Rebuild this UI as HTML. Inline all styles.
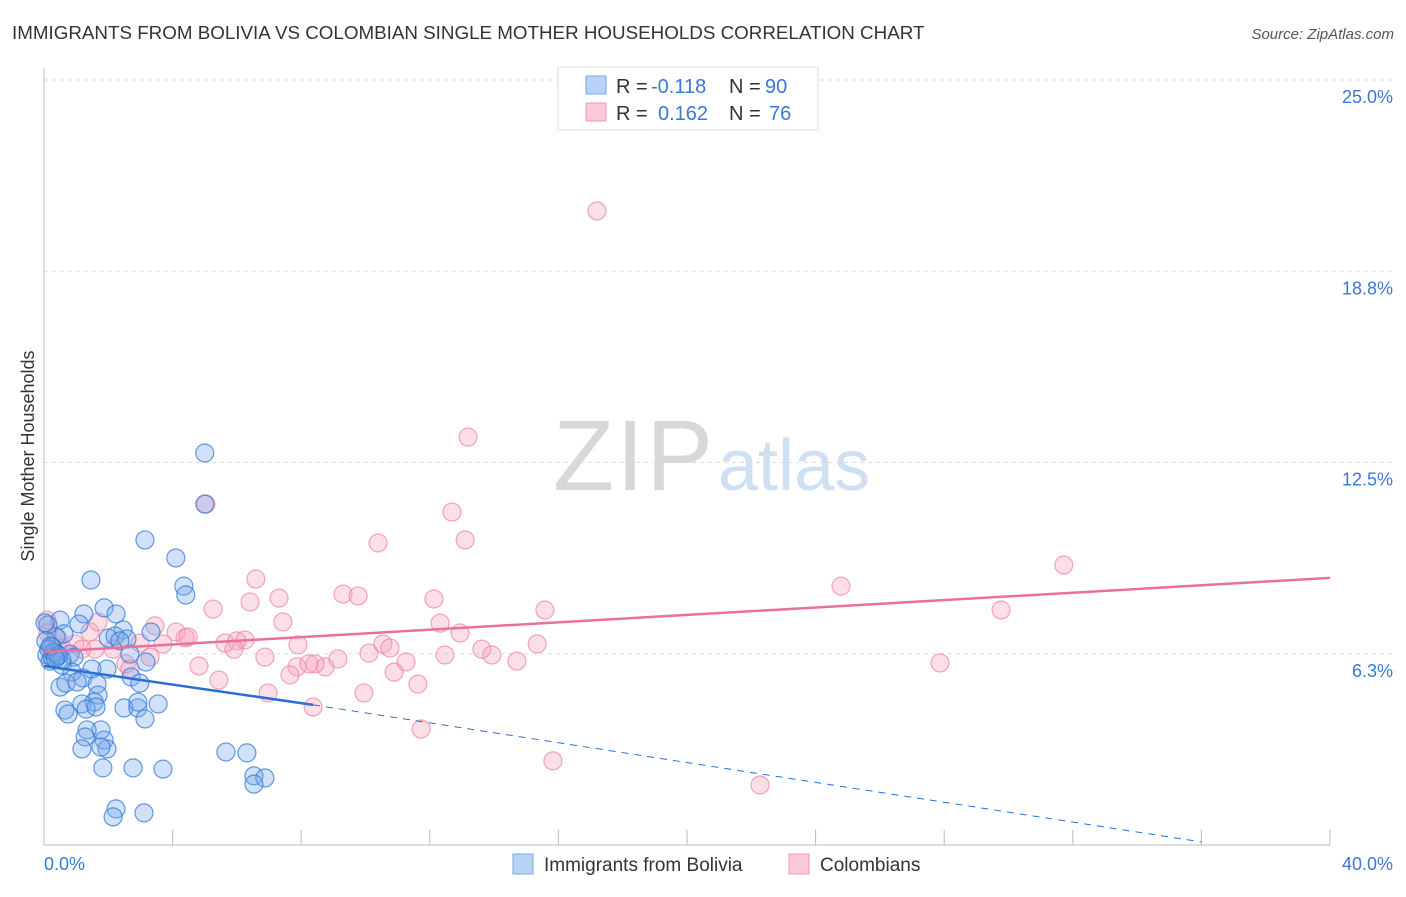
<!DOCTYPE html>
<html><head><meta charset="utf-8"><style>
body{margin:0;background:#fff;font-family:"Liberation Sans",sans-serif}
svg text{font-family:"Liberation Sans",sans-serif}
</style></head><body>
<svg id="chart" width="1406" height="892" viewBox="0 0 1406 892">
<text x="12" y="39" font-size="18.8" fill="#333">IMMIGRANTS FROM BOLIVIA VS COLOMBIAN SINGLE MOTHER HOUSEHOLDS CORRELATION CHART</text>
<text x="1394" y="39" font-size="15" fill="#555" text-anchor="end" font-style="italic">Source: ZipAtlas.com</text>
<g>
<text x="553" y="490" font-size="100" fill="#d8d8d8" font-family="Liberation Serif, serif" textLength="160">ZIP</text>
<text x="718" y="490" font-size="72" fill="#cfe0f3">atlas</text>
</g>
<g id="grid"></g>
<g id="axes"></g>
<g id="pts"></g>
<g id="trend"></g>
<text transform="translate(34,456) rotate(-90)" font-size="18" fill="#333" text-anchor="middle">Single Mother Households</text>
<g>
<rect x="558" y="67" width="260" height="63" fill="#fff" stroke="#ddd"/>
<rect x="586" y="76" width="20" height="18" fill="#b8d3f5" stroke="#7aa9e6"/>
<rect x="586" y="103" width="20" height="18" fill="#fac8d6" stroke="#f09ab2"/>
<text x="616" y="93" font-size="20" fill="#333">R =</text>
<text x="651" y="93" font-size="20" fill="#3a78d4">-0.118</text>
<text x="729" y="93" font-size="20" fill="#333">N =</text>
<text x="765" y="93" font-size="20" fill="#3a78d4">90</text>
<text x="616" y="120" font-size="20" fill="#333">R =</text>
<text x="658" y="120" font-size="20" fill="#3a78d4">0.162</text>
<text x="729" y="120" font-size="20" fill="#333">N =</text>
<text x="769" y="120" font-size="20" fill="#3a78d4">76</text>
</g>
<g>
<rect x="513" y="854" width="20" height="20" fill="#b8d3f5" stroke="#7aa9e6"/>
<text x="544" y="871" font-size="19" fill="#333">Immigrants from Bolivia</text>
<rect x="789" y="854" width="20" height="20" fill="#fac8d6" stroke="#f09ab2"/>
<text x="820" y="871" font-size="19" fill="#333">Colombians</text>
</g>
</svg>
<script>
const yTicks=[6.25,12.5,18.75,25];
const yTickLabels=["6.3%","12.5%","18.8%","25.0%"];
const xTickLabels=["0.0%","40.0%"];
const blueX=[5.0,5.0,3.14,4.1,4.35,4.41,1.46,1.87,2.24,1.24,0.5,1.09,2.0,2.46,3.33,2.21,2.58,2.36,0.62,0.37,0.12,0.25,0.4,0.81,0.93,0.56,0.09,0.19,2.67,3.17,1.96,1.49,0.87,0.5,0.68,1.21,1.65,1.03,2.71,2.98,1.68,1.56,1.18,0.65,0.75,1.31,1.62,2.49,2.92,3.55,2.92,3.14,1.77,1.34,1.28,1.87,1.18,1.96,1.77,1.83,2.77,3.7,5.66,6.31,6.53,6.87,6.53,2.24,2.15,3.11,0.03,0.06,0.25,0.37,0.56,0.15,0.3,0.45,0.2,0.35];
const blueY=[12.81,11.14,9.97,9.38,8.46,8.17,8.66,7.75,7.55,7.55,7.35,7.22,6.76,7.03,6.96,6.83,6.73,6.67,6.9,6.8,7.19,6.47,6.14,6.24,6.14,5.88,6.21,6.01,6.24,5.98,5.75,5.75,5.65,5.16,5.29,5.46,5.26,5.33,5.49,5.29,4.9,4.67,4.61,4.41,4.28,4.44,4.51,4.48,4.48,4.61,4.67,4.12,3.76,3.76,3.53,3.43,3.14,3.14,3.2,2.52,2.52,2.48,3.04,3.01,2.26,2.19,1.99,1.18,0.92,1.05,7.26,6.67,6.14,6.27,6.04,6.4,6.3,6.2,6.5,6.1];
const pinkX=[17.2,13.19,12.69,5.04,13.1,10.39,31.72,24.79,6.59,5.26,6.41,7.31,9.3,9.77,12.13,15.58,29.77,7.43,12.32,3.45,4.39,4.11,4.48,5.63,6.0,6.25,5.91,6.87,7.9,8.74,8.43,9.14,10.11,10.54,10.76,11.26,12.47,12.94,13.62,13.93,14.71,15.34,27.87,4.82,5.44,7.87,7.65,8.24,6.97,9.95,10.89,11.63,8.37,11.73,15.83,22.27,0.09,0.25,0.56,0.96,1.43,1.68,1.59,2.99,3.3,3.7,2.55,2.67,2.15,0.12,0.43,1.18];
const pinkY=[20.72,13.33,10.88,11.14,9.97,9.87,9.15,8.46,8.69,7.71,7.94,8.07,8.2,8.14,8.04,7.68,7.68,7.29,7.25,7.16,6.77,6.96,6.8,6.6,6.67,6.7,6.4,6.14,6.54,5.82,5.92,6.08,6.27,6.57,6.44,5.98,6.21,6.93,6.4,6.21,6.01,6.57,5.95,5.85,5.39,5.82,5.56,5.92,4.97,4.97,5.65,5.26,4.51,3.79,2.75,1.96,7.35,6.44,6.44,6.57,6.96,7.29,6.4,6.6,6.14,6.57,5.92,5.75,6.4,6.93,6.76,6.4];
const x=v=>44+v/40*1286, y=v=>845-v/25*765;
const NS="http://www.w3.org/2000/svg";
function mk(tag,attrs,parent){const e=document.createElementNS(NS,tag);for(const k in attrs)e.setAttribute(k,attrs[k]);parent.appendChild(e);return e;}
const grid=document.getElementById('grid'),axes=document.getElementById('axes');
yTicks.forEach((t,i)=>{
 const l=mk('line',{x1:44,x2:1395,y1:y(t),y2:y(t),stroke:'#ddd','stroke-dasharray':'4,4'},grid);
 
 
 const tx=mk('text',{x:1393,y:y(t)+23,'font-size':18,fill:'#3a78d4','text-anchor':'end'},axes);
 tx.textContent=yTickLabels[i];
 
 
});
mk('line',{x1:44,x2:44,y1:68,y2:845,stroke:'#bbb'},axes);
mk('line',{x1:44,x2:1330,y1:845,y2:845,stroke:'#bbb'},axes);
for(let i=1;i<=10;i++){const l=mk('line',{x1:x(i*4),x2:x(i*4),y1:830,y2:845,stroke:'#bbb'},axes);
 
 }
const xl0=mk('text',{x:44,y:870,'font-size':18,fill:'#3a78d4'},axes);xl0.textContent=xTickLabels[0];


const xl1=mk('text',{x:1393,y:870,'font-size':18,fill:'#3a78d4','text-anchor':'end'},axes);xl1.textContent=xTickLabels[1];


const pts=document.getElementById('pts');
pinkX.forEach((v,i)=>{const c=mk('circle',{cx:x(v),cy:y(pinkY[i]),r:9,fill:'rgba(246,160,186,0.35)',stroke:'rgba(236,130,160,0.7)','stroke-width':1.2},pts);
 
 });
blueX.forEach((v,i)=>{const c=mk('circle',{cx:x(v),cy:y(blueY[i]),r:9,fill:'rgba(120,170,235,0.35)',stroke:'rgba(50,120,215,0.75)','stroke-width':1.2},pts);
 
 });
const tr=document.getElementById('trend');
const bl=mk('line',{x1:x(0),y1:y(5.85),x2:x(8.37),y2:y(4.58),stroke:'#2a6fd6','stroke-width':2.5},tr);


const bd=mk('line',{x1:x(8.37),y1:y(4.58),x2:x(36),y2:y(0.1),stroke:'#2a6fd6','stroke-width':1,'stroke-dasharray':'7,6'},tr);


const pl=mk('line',{x1:x(0),y1:y(6.31),x2:x(40),y2:y(8.73),stroke:'#e8709a','stroke-width':2.5},tr);


</script>
</body></html>
